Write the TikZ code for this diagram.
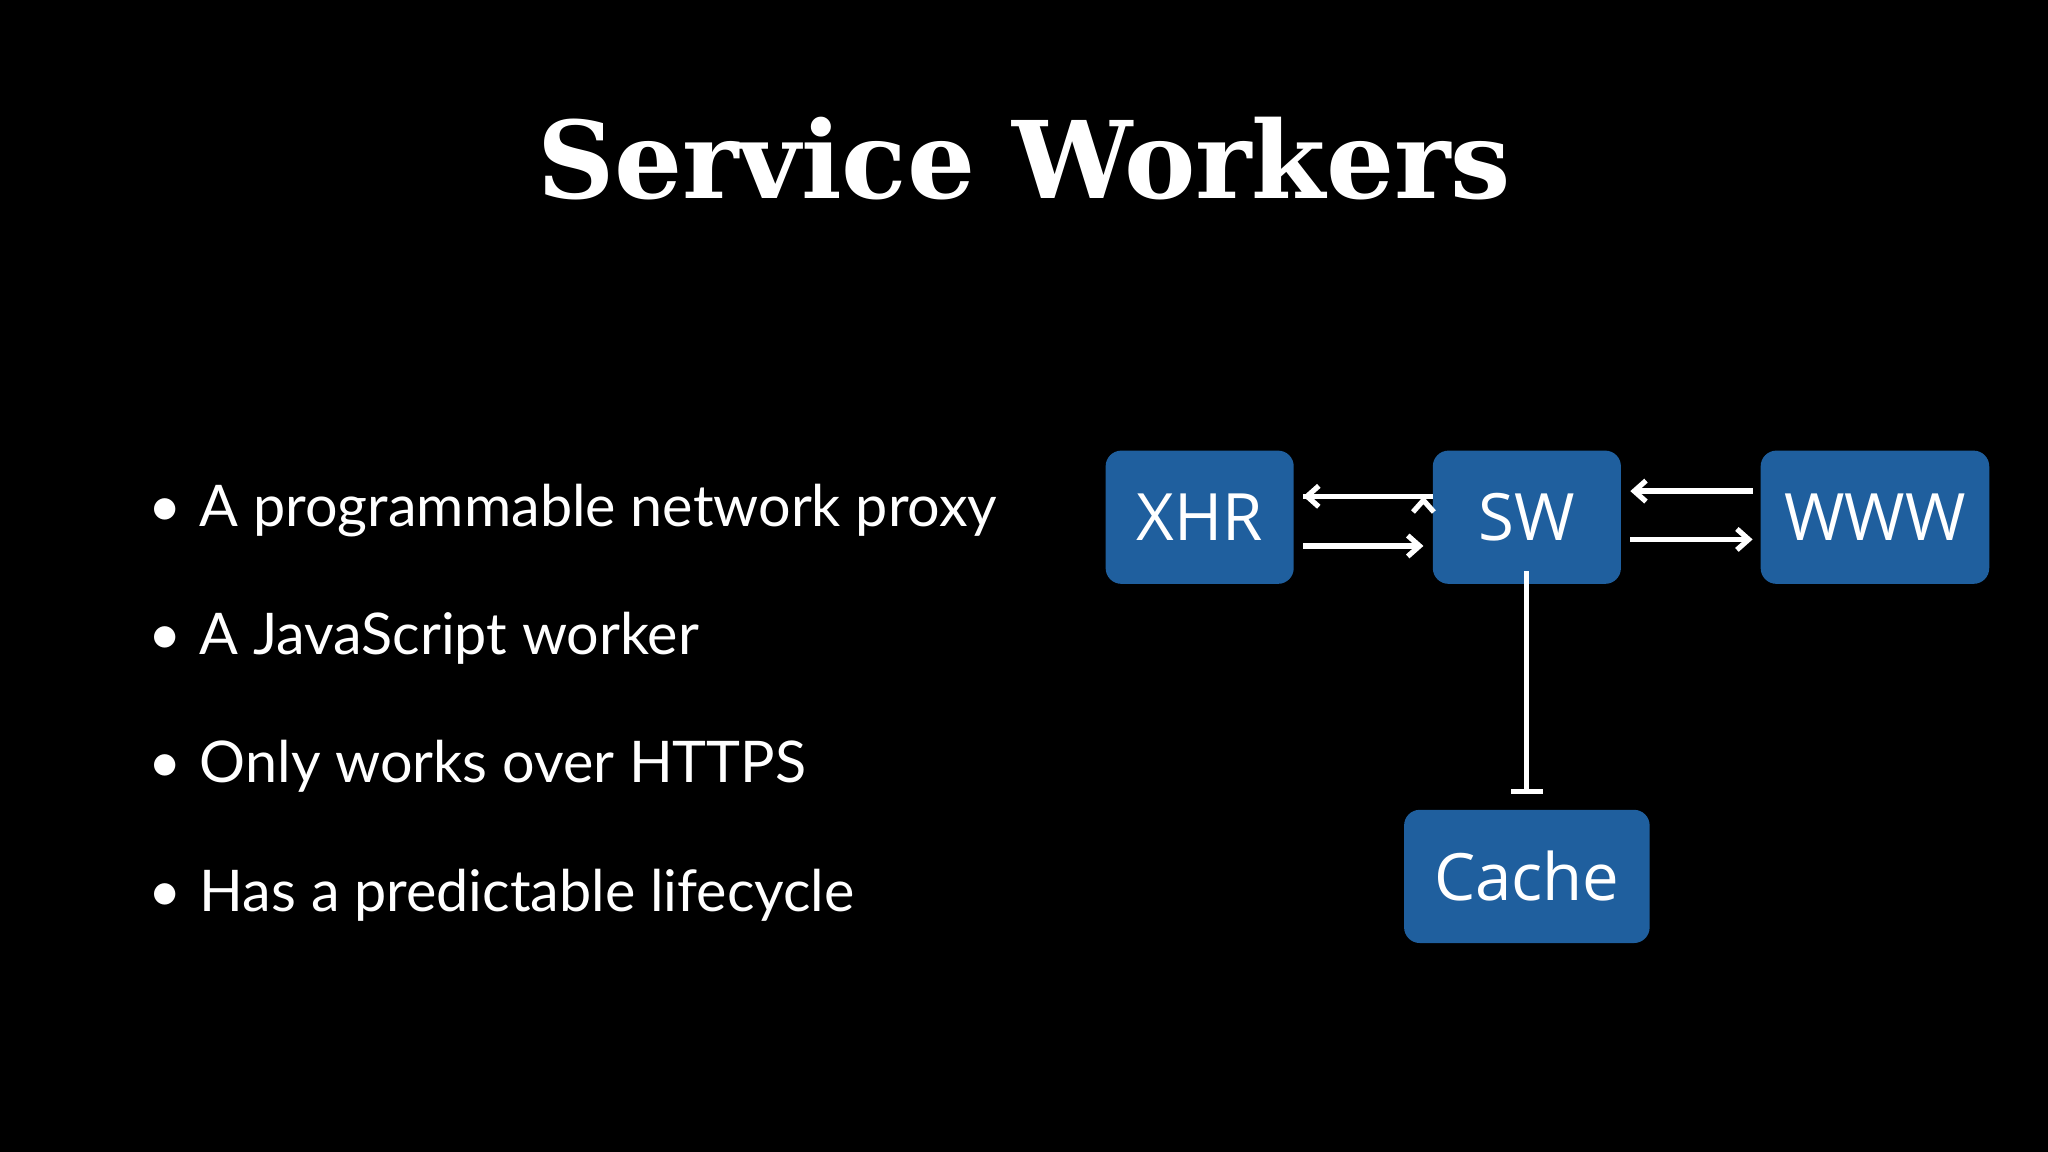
\documentclass[tikz,border=0pt]{standalone}
\usepackage{fontspec}
\setmainfont{Lato}
\newfontfamily\titlefont{DejaVu Serif}
\newfontfamily\boxfont{Open Sans}
\usetikzlibrary{arrows.meta}
\definecolor{boxblue}{HTML}{1F5F9E}
\begin{document}
\begin{tikzpicture}[x=1pt,y=-1pt,
  box/.style={fill=boxblue,rounded corners=12pt,inner sep=0pt,text=white,font=\boxfont\fontsize{50}{50}\selectfont},
  bul/.style={anchor=base west,text=white,font=\fontsize{44}{44}\selectfont},
  arr/.style={draw=white,line width=4pt,-{Straight Barb[length=9pt,width=16pt,line width=4pt]}}]
\fill[black] (0,0) rectangle (1568,882);
\useasboundingbox (0,0) rectangle (1568,882);
\node[text=white,font=\titlefont\bfseries\fontsize{82}{82}\selectfont,anchor=base] (title) at (784,152) {Service Workers};
\foreach \i/\t/\y in {1/A programmable network proxy/403,2/A JavaScript worker/501,3/Only works over HTTPS/599,4/Has a predictable lifecycle/698}{
  \node[bul] (b\i) at (110,\y) {\textbullet\hspace{14pt}\t};
}
\node[box,minimum width=144pt,minimum height=102pt] (xhr) at (918.5,396) {XHR};
\node[box,minimum width=144pt,minimum height=102pt] (sw) at (1169,396) {SW};
\node[box,minimum width=175pt,minimum height=102pt] (www) at (1435.5,396) {WWW};
\node[box,minimum width=188pt,minimum height=102pt] (cache) at (1169,671) {Cache};
\draw[arr] ([yshift=16pt]xhr.east) ++(7,0) coordinate (a1) -- ([yshift=16pt]sw.west) ++(-7,0);
\draw[arr] ([yshift=16pt,xshift=-7pt]sw.west) -- ([yshift=16pt,xshift=7pt]xhr.east);
\draw[arr] ([yshift=-22pt,xshift=7pt]xhr.east) -- ([yshift=-22pt,xshift=-7pt]sw.west);
\draw[arr] ([yshift=20pt,xshift=-6pt]www.west) -- ([yshift=20pt,xshift=7pt]sw.east);
\draw[arr] ([yshift=-17pt,xshift=7pt]sw.east) -- ([yshift=-17pt,xshift=-6pt]www.west);
\draw[draw=white,line width=4pt,-{Bar[width=24pt,line width=4pt]}] ([yshift=10pt]sw.south) -- ([yshift=12pt]cache.north);
\end{tikzpicture}
\end{document}
